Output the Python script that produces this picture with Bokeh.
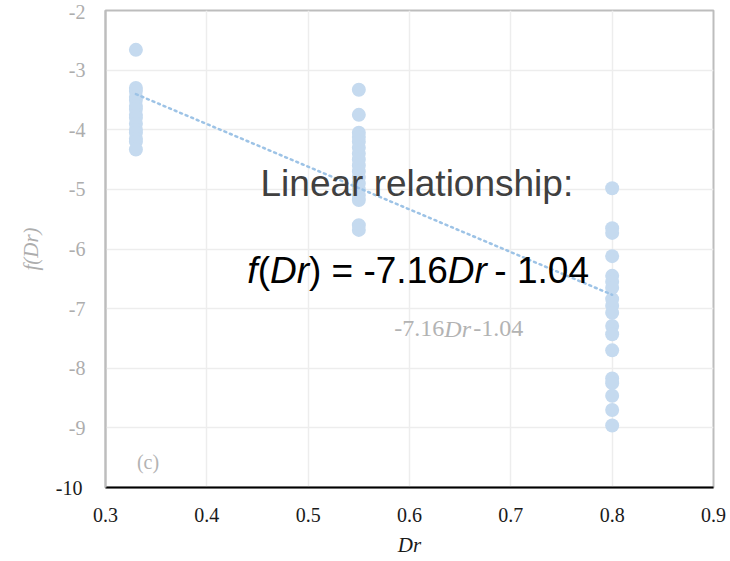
from bokeh.plotting import figure
from bokeh.models import Label, FixedTicker, Range1d, LinearAxis
from bokeh.embed import file_html
from bokeh.resources import INLINE

# ---- data ----
dr_a = 0.33
f_a = [-2.66, -3.30, -3.35, -3.45, -3.50, -3.60, -3.65, -3.75, -3.80, -3.90,
       -4.00, -4.05, -4.15, -4.20, -4.33]
dr_b = 0.55
f_b = [-3.33, -3.75, -4.05, -4.12, -4.20, -4.30, -4.40, -4.50, -4.60, -4.70,
       -4.80, -4.90, -5.00, -5.10, -5.18, -5.60, -5.68]
dr_c = 0.80
f_c = [-4.98, -5.65, -5.73, -6.12, -6.45, -6.55, -6.65, -6.84, -6.95, -7.07,
       -7.29, -7.43, -7.70, -8.17, -8.25, -8.46, -8.70, -8.96]
slope = -7.16
intercept = -1.04
x_ticks = [0.3, 0.4, 0.5, 0.6, 0.7, 0.8, 0.9]
y_ticks = [-10, -9, -8, -7, -6, -5, -4, -3, -2]
y_tick_labels = ["-10", "-9", "-8", "-7", "-6", "-5", "-4", "-3", "-2"]

xs = [dr_a] * len(f_a) + [dr_b] * len(f_b) + [dr_c] * len(f_c)
ys = f_a + f_b + f_c

SERIF = "Liberation Serif"
SANS = "Liberation Sans"
GRAY = "#ADADAD"

p = figure(width=730, height=561, output_backend="svg", toolbar_location=None,
           x_range=Range1d(0.3, 0.9), y_range=Range1d(-10, -2))
p.min_border_left = 105
p.min_border_right = 17
p.min_border_top = 10
p.min_border_bottom = 74
p.background_fill_color = "white"
p.border_fill_color = "white"
p.outline_line_color = "#BDBDBD"
p.outline_line_width = 2

# grid
p.xaxis.ticker = FixedTicker(ticks=x_ticks)
p.yaxis.ticker = FixedTicker(ticks=y_ticks)
p.xgrid.grid_line_color = "#EDEDED"
p.ygrid.grid_line_color = "#EDEDED"
p.xgrid.grid_line_width = 1.5
p.ygrid.grid_line_width = 1.5

# axes
for ax in (p.xaxis[0], p.yaxis[0]):
    ax.major_tick_line_color = None
    ax.minor_tick_line_color = None
    ax.major_tick_out = 0
    ax.major_tick_in = 0
    ax.major_label_text_font = SERIF
    ax.major_label_text_font_size = "20px"
    ax.axis_label_text_font = SERIF
    ax.axis_label_text_font_style = "italic"
    ax.axis_label_text_font_size = "21px"
    ax.major_label_standoff = 20

p.xaxis.axis_line_color = "#000000"
p.xaxis.axis_line_width = 2
p.xaxis.major_label_text_color = "#1A1A1A"
p.xaxis.axis_label = "Dr"
p.xaxis.axis_label_text_color = "#1A1A1A"
p.xaxis.axis_label_standoff = 8
p.xaxis.formatter.use_scientific = False

# inner y axis: gray labels -9 .. -2
p.yaxis.axis_line_color = "#BDBDBD"
p.yaxis.axis_line_width = 2
p.yaxis.major_label_text_color = GRAY
overrides = {t: s for t, s in zip(y_ticks, y_tick_labels)}
overrides[y_ticks[0]] = " "
p.yaxis.major_label_overrides = overrides

# outer y axis: black "-10" only, pulled back onto the same column, carries the title
ax2 = LinearAxis(ticker=FixedTicker(ticks=[y_ticks[0]]),
                 major_label_overrides={y_ticks[0]: y_tick_labels[0]},
                 axis_line_color=None, major_tick_line_color=None,
                 minor_tick_line_color=None, major_tick_out=0, major_tick_in=0,
                 major_label_text_font=SERIF, major_label_text_font_size="20px",
                 major_label_text_color="#1A1A1A", major_label_standoff=-17,
                 axis_label="f(Dr)", axis_label_text_font=SERIF,
                 axis_label_text_font_style="italic", axis_label_text_font_size="21px",
                 axis_label_text_color=GRAY, axis_label_standoff=10)
p.add_layout(ax2, "left")

# points
p.scatter(xs, ys, size=14, fill_color="#C5DAEF", line_color=None)

# trend line
tx = [dr_a, dr_c]
ty = [slope * v + intercept for v in tx]
p.line(tx, ty, line_color="#9DC3E6", line_width=2.5, line_dash="2 4", line_cap="round")

# annotation text
p.add_layout(Label(x=0.453, y=-4.907, text="Linear relationship:", text_font=SANS,
                   text_font_size="37px", text_color="#404040",
                   text_baseline="alphabetic"))

pieces = [("f", "italic", 0.0), ("(", "normal", 10.3), ("Dr", "italic", 22.6),
          (") = -7.16", "normal", 61.6), ("Dr", "italic", 200.4), (" - 1.04", "normal", 247.0)]
for txt, style, off in pieces:
    p.add_layout(Label(x=0.440, y=-6.368, x_offset=off, text=txt, text_font=SANS,
                       text_font_style=style, text_font_size="37px",
                       text_color="#000000", text_baseline="alphabetic"))

gpieces = [("-7.16", "normal", 0.0), ("Dr", "italic", 50.0), ("-1.04", "normal", 79.0)]
for txt, style, off in gpieces:
    p.add_layout(Label(x=0.585, y=-7.339, x_offset=off, text=txt, text_font=SERIF,
                       text_font_style=style, text_font_size="24px",
                       text_color="#B3B3B3", text_baseline="alphabetic"))

p.add_layout(Label(x=0.342, y=-9.57, text="(c)", text_font=SERIF, text_font_size="20px",
                   text_color="#B3B3B3", text_align="center", text_baseline="middle"))

open("out.html", "w").write(file_html(p, INLINE))
